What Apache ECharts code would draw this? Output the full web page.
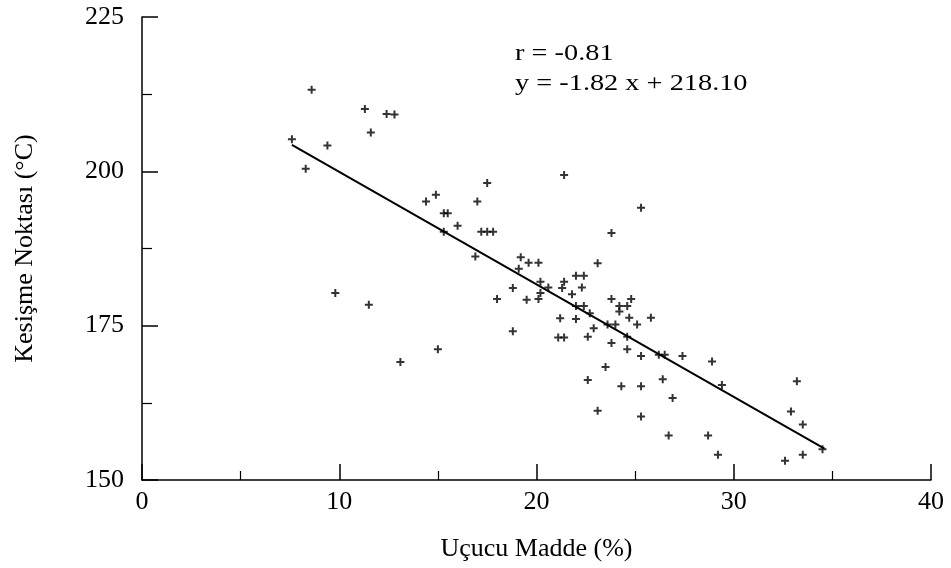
<!DOCTYPE html>
<html>
<head>
<meta charset="utf-8">
<title>Kesişme Noktası - Uçucu Madde</title>
<script src="https://cdn.jsdelivr.net/npm/echarts@6/dist/echarts.min.js"></script>
<style>
    html, body { margin: 0; padding: 0; background: #fff; }
    #main { width: 951px; height: 568px; }
</style>
</head>
<body>
<div id="main"></div>
<script>
// 点的数据 (Uçucu Madde %, Kesişme Noktası °C)
var volatile = [7.6, 8.6, 8.3, 9.4, 9.8, 11.3, 11.6, 12.4, 12.8, 11.5, 13.1, 14.4, 14.9, 15.3, 15.5,
    16.0, 15.3, 15.0, 17.0, 17.5, 17.2, 17.5, 17.8, 16.9, 19.2, 19.6, 20.1, 19.1, 18.8, 20.2,
    20.6, 20.2, 20.1, 18.0, 19.5, 21.4, 23.8, 23.1, 21.4, 21.3, 22.0, 22.4, 21.8, 22.3, 22.0,
    22.4, 23.8, 24.2, 24.6, 24.8, 24.2, 21.2, 22.0, 22.7, 22.9, 21.1, 21.4, 22.6, 24.7, 25.1,
    25.8, 23.6, 24.0, 24.6, 23.8, 24.6, 25.3, 26.2, 26.5, 27.4, 28.9, 23.5, 22.6, 24.3, 25.3,
    26.4, 26.9, 23.1, 25.3, 29.4, 33.2, 32.9, 33.5, 34.5, 33.5, 32.6, 26.7, 28.7, 29.2, 25.3,
    18.8];
var crossing = [205.2, 213.2, 200.4, 204.2, 180.3, 210.1, 206.3, 209.3, 209.2, 178.4, 169.1, 195.1, 196.2, 193.2, 193.2,
    191.2, 190.2, 171.2, 195.1, 198.1, 190.2, 190.2, 190.2, 186.2, 186.1, 185.2, 185.2, 184.2, 181.1, 182.1,
    181.2, 180.3, 179.3, 179.3, 179.2, 199.4, 190.0, 185.1, 182.1, 181.1, 183.1, 183.1, 180.1, 181.2, 178.2,
    178.2, 179.3, 178.2, 178.2, 179.3, 177.3, 176.2, 176.1, 177.0, 174.6, 173.1, 173.1, 173.2, 176.3, 175.2,
    176.3, 175.2, 175.2, 173.2, 172.2, 171.2, 170.1, 170.3, 170.3, 170.1, 169.2, 168.3, 166.2, 165.2, 165.2,
    166.3, 163.3, 161.2, 160.3, 165.4, 166.0, 161.1, 159.0, 155.0, 154.1, 153.1, 157.2, 157.2, 154.1, 194.1,
    174.1];
// 回归线两端
var fitX = [7.6, 34.6];
var fitY = [204.3, 155.1];
var xTicks = [0, 10, 20, 30, 40];
var yTicks = [150, 175, 200, 225];
var statText = ['r = -0.81', 'y = -1.82 x + 218.10'];

var points = [];
for (var i = 0; i < volatile.length; i++) {
    points.push([volatile[i], crossing[i]]);
}
var fitLine = [];
for (var j = 0; j < fitX.length; j++) {
    fitLine.push([fitX[j], fitY[j]]);
}

var serif = '"Liberation Serif", "DejaVu Serif", serif';
var plus = 'path://M3,0h2v3h3v2h-3v3h-2v-3h-3v-2h3z';

// 右上角的统计文字，扫描件里字形偏宽
function statLabel(text, y) {
    return {
        type: 'text',
        x: 515,
        y: y,
        scaleX: 1.18,
        style: {
            text: text,
            x: 0,
            y: 0,
            verticalAlign: 'middle',
            font: '24px ' + serif,
            fill: '#000'
        }
    };
}

var myChart = echarts.init(document.getElementById('main'));
var option = {
    animation: false,
    backgroundColor: '#fff',
    grid: {
        left: 142,
        right: 20,
        top: 17,
        bottom: 88
    },
    xAxis: {
        type: 'value',
        min: xTicks[0],
        max: xTicks[xTicks.length - 1],
        interval: xTicks[1] - xTicks[0],
        name: 'Uçucu Madde (%)',
        nameLocation: 'middle',
        nameGap: 56,
        nameTextStyle: { fontFamily: serif, fontSize: 26, color: '#000' },
        axisLine: { lineStyle: { color: '#000', width: 1.5 } },
        axisTick: { inside: true, length: 16, lineStyle: { color: '#000', width: 1.5 } },
        minorTick: { show: true, splitNumber: 2, length: 9, lineStyle: { color: '#000', width: 1.2 } },
        axisLabel: { fontFamily: serif, fontSize: 26, color: '#000', margin: 9 },
        splitLine: { show: false }
    },
    yAxis: {
        type: 'value',
        min: yTicks[0],
        max: yTicks[yTicks.length - 1],
        interval: yTicks[1] - yTicks[0],
        name: 'Kesişme Noktası (°C)',
        nameLocation: 'middle',
        nameGap: 104,
        nameTextStyle: { fontFamily: serif, fontSize: 26, color: '#000' },
        axisLine: { show: true, lineStyle: { color: '#000', width: 1.5 } },
        axisTick: { show: true, inside: true, length: 16, lineStyle: { color: '#000', width: 1.5 } },
        minorTick: { show: true, splitNumber: 2, length: 10, lineStyle: { color: '#000', width: 1.2 } },
        axisLabel: { fontFamily: serif, fontSize: 26, color: '#000', margin: 18 },
        splitLine: { show: false }
    },
    graphic: [
        statLabel(statText[0], 54),
        statLabel(statText[1], 84)
    ],
    series: [
        {
            type: 'scatter',
            data: points,
            symbol: plus,
            symbolSize: 8,
            itemStyle: { color: '#000' }
        },
        {
            type: 'line',
            data: fitLine,
            symbol: 'none',
            lineStyle: { color: '#000', width: 2 }
        }
    ]
};
myChart.setOption(option);
</script>
</body>
</html>
